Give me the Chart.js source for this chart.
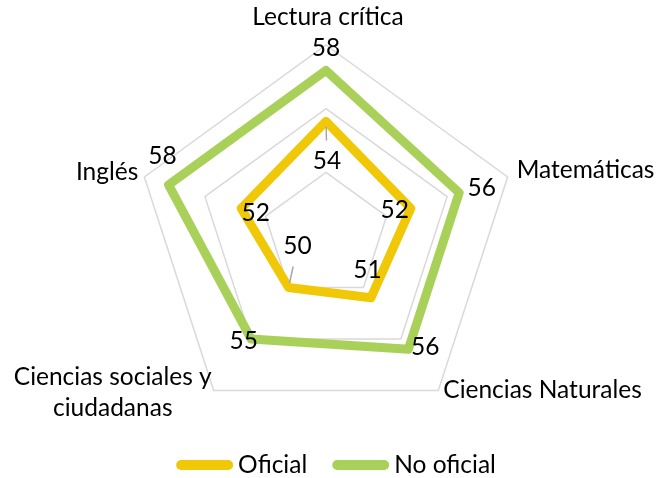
<!DOCTYPE html>
<html>
<head>
<meta charset="utf-8">
<script src="https://cdn.jsdelivr.net/npm/chart.js@4.4.1/dist/chart.umd.min.js"></script>
<style>
  html, body { margin: 0; padding: 0; background: #fff; }
  #wrap { width: 661px; height: 478px; }
</style>
</head>
<body>
<div id="wrap"><canvas id="radarChart"></canvas></div>
<script>
// Data
var categories = ['Lectura crítica', 'Matemáticas', 'Ciencias Naturales', ['Ciencias sociales y', 'ciudadanas'], 'Inglés'];
var oficial = [54, 52, 51, 50, 52];
var noOficial = [58, 56, 56, 55, 58];
var seriesNames = ['Oficial', 'No oficial'];

var yellow = '#F0C808';
var green = '#A9D15A';
var fontFamily = 'Lato, "Noto Sans", sans-serif';
var fontSize = 24.5;

// nudges (px) of value labels from their point, per series and per axis
var labelShift = [
    [[1, 40], [-16, 1.5], [-3.5, -28], [9, -41.5], [14.5, 5]],
    [[0, -22], [22.5, -4.5], [17, -2.5], [-7.5, 2], [-6, -28.5]]
];
// axis label placement relative to the outer vertex
var axisPlace = [
    { dx: 2, dy: -28, align: 'center' },
    { dx: 9, dy: -7, align: 'left' },
    { dx: 5, dy: 0, align: 'left' },
    { dx: -2, dy: 2.5, align: 'right' },
    { dx: -6, dy: -5, align: 'right' }
];

// draws axis labels around the radar
var axisLabelsPlugin = {
    id: 'axisLabels',
    afterDraw: function(chart) {
        var ctx = chart.ctx;
        var scale = chart.scales.r;
        ctx.save();
        ctx.font = fontSize + 'px ' + fontFamily;
        ctx.fillStyle = '#000';
        ctx.textAlign = 'center';
        ctx.textBaseline = 'middle';
        categories.forEach(function(cat, i) {
            var p = axisPlace[i];
            var pos = scale.getPointPosition(i, scale.drawingArea);
            var lines = Array.isArray(cat) ? cat : [cat];
            var lh = 31;
            var maxW = 0;
            lines.forEach(function(l) { maxW = Math.max(maxW, ctx.measureText(l).width); });
            var x = pos.x + p.dx;
            var cx = x;
            if (p.align === 'left') cx = x + maxW / 2;
            else if (p.align === 'right') cx = x - maxW / 2;
            var cy = pos.y + p.dy - (lines.length - 1) * lh / 2;
            lines.forEach(function(l, k) {
                ctx.fillText(l, cx, cy + lh * k);
            });
        });
        ctx.restore();
    }
};

// draws value labels next to each point
var valueLabelsPlugin = {
    id: 'valueLabels',
    afterDatasetsDraw: function(chart) {
        var ctx = chart.ctx;
        ctx.save();
        ctx.font = fontSize + 'px ' + fontFamily;
        ctx.fillStyle = '#000';
        ctx.textAlign = 'center';
        ctx.textBaseline = 'middle';
        chart.data.datasets.forEach(function(ds, di) {
            var meta = chart.getDatasetMeta(di);
            meta.data.forEach(function(pt, i) {
                var s = labelShift[di][i];
                var dist = Math.sqrt(s[0] * s[0] + s[1] * s[1]);
                if (dist > 35) {
                    // leader line toward the label
                    var ux = s[0] / dist, uy = s[1] / dist;
                    ctx.strokeStyle = '#a6a6a6';
                    ctx.lineWidth = 1.5;
                    ctx.beginPath();
                    ctx.moveTo(pt.x + ux * 5, pt.y + uy * 5);
                    ctx.lineTo(pt.x + ux * (dist - 21), pt.y + uy * (dist - 21));
                    ctx.stroke();
                }
                ctx.fillText(ds.data[i], pt.x + s[0], pt.y + s[1]);
            });
        });
        ctx.restore();
    }
};

// legend under the chart: rounded line sample + name
var legendPlugin = {
    id: 'lineLegend',
    afterDraw: function(chart) {
        var ctx = chart.ctx;
        var sampleW = 57, sampleH = 10, gap = 5, itemGap = 25;
        var y = chart.chartArea.bottom + 38;
        ctx.save();
        ctx.font = fontSize + 'px ' + fontFamily;
        var total = 0;
        chart.data.datasets.forEach(function(ds, i) {
            total += sampleW + gap + ctx.measureText(ds.label).width + (i > 0 ? itemGap : 0);
        });
        var x = chart.scales.r.xCenter + 10 - total / 2;
        ctx.textAlign = 'left';
        ctx.textBaseline = 'middle';
        chart.data.datasets.forEach(function(ds, i) {
            if (i > 0) x += itemGap;
            ctx.strokeStyle = ds.borderColor;
            ctx.lineWidth = sampleH;
            ctx.lineCap = 'round';
            ctx.beginPath();
            ctx.moveTo(x + sampleH / 2, y);
            ctx.lineTo(x + sampleW - sampleH / 2, y);
            ctx.stroke();
            x += sampleW + gap;
            ctx.fillStyle = '#000';
            ctx.fillText(ds.label, x, y);
            x += ctx.measureText(ds.label).width;
        });
        ctx.restore();
    }
};

var ctx = document.getElementById('radarChart').getContext('2d');
var radarChart = new Chart(ctx, {
    type: 'radar',
    data: {
        labels: categories,
        datasets: [{
            label: seriesNames[0],
            data: oficial,
            borderColor: yellow,
            backgroundColor: yellow,
            borderWidth: 9,
            fill: false,
            pointRadius: 0,
            pointHoverRadius: 0,
            borderJoinStyle: 'round'
        }, {
            label: seriesNames[1],
            data: noOficial,
            borderColor: green,
            backgroundColor: green,
            borderWidth: 9,
            fill: false,
            pointRadius: 0,
            pointHoverRadius: 0,
            borderJoinStyle: 'round'
        }]
    },
    options: {
        responsive: true,
        maintainAspectRatio: false,
        animation: false,
        layout: { padding: { top: 45, left: 0, right: 9, bottom: 51 } },
        scales: {
            r: {
                min: 45,
                max: 60,
                ticks: { display: false, stepSize: 5 },
                grid: { color: '#d9d9d9', lineWidth: 1.5 },
                angleLines: { display: false },
                pointLabels: { display: false }
            }
        },
        plugins: {
            tooltip: { enabled: false },
            legend: { display: false }
        }
    },
    plugins: [axisLabelsPlugin, valueLabelsPlugin, legendPlugin]
});
</script>
</body>
</html>
